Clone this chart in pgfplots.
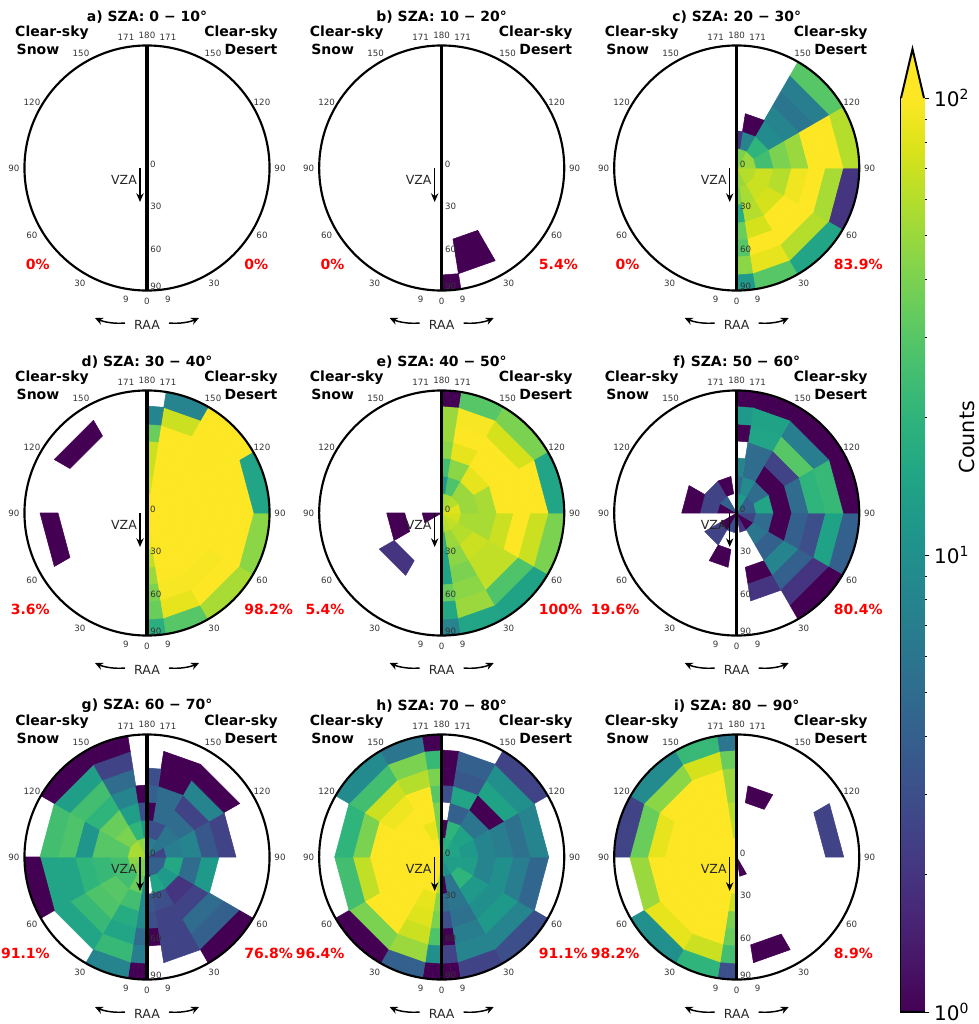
\documentclass[border=0pt]{standalone}
\usepackage{fontspec}
\setmainfont{DejaVu Sans}
\usepackage{pgfplots}
\usepackage{pgfplotstable}
\pgfplotsset{compat=1.18}
\usetikzlibrary{arrows.meta}
\definecolor{viridisTop}{HTML}{FDE725}
% counts: rows = VZA rings (centre outward), columns = RAA sectors 0-9,9-30,30-60,60-90,90-120,120-150,150-171,171-180
\pgfplotstableread{
s1 s2 s3 s4 s5 s6 s7 s8
0 0 0 0 0 0 0 0
0 0 0 0 0 0 0 0
0 0 0 0 0 0 0 0
0 0 0 0 0 0 0 0
0 0 0 0 0 0 0 0
0 0 0 0 0 0 0 0
0 0 0 0 0 0 0 0
}\tblE
\pgfplotstableread{
s1 s2 s3 s4 s5 s6 s7 s8
0 0 0 0 0 0 0 0
0 0 0 0 0 0 0 0
0 0 0 0 0 0 0 0
0 0 0 0 0 0 0 0
0 1 0 0 0 0 0 0
0 1 0 0 0 0 0 0
1 0 0 0 0 0 0 0
}\tblBR
\pgfplotstableread{
s1 s2 s3 s4 s5 s6 s7 s8
50 50 60 60 50 50 40 40
40 55 70 70 25 20 8 2
18 60 75 60 40 9 1 0
35 75 100 90 50 8 0 0
30 100 100 100 100 6 0 0
45 85 60 55 100 7 0 0
12 30 15 2 60 30 0 0
}\tblCR
\pgfplotstableread{
s1 s2 s3 s4 s5 s6 s7 s8
0 0 0 0 0 0 0 0
0 0 0 0 0 0 0 0
0 0 0 0 0 0 0 0
0 0 0 0 0 0 0 0
0 0 0 0 0 0 0 0
0 0 0 1 0 1 0 0
0 0 0 0 0 0 0 0
}\tblDL
\pgfplotstableread{
s1 s2 s3 s4 s5 s6 s7 s8
100 100 100 100 100 100 100 100
90 100 100 100 100 100 100 75
65 100 100 100 100 100 100 70
50 100 100 100 100 100 100 70
40 95 95 100 100 100 100 35
35 85 100 100 100 100 70 8
18 30 55 45 15 100 8 0
}\tblDR
\pgfplotstableread{
s1 s2 s3 s4 s5 s6 s7 s8
0 0 0 1 0 0 0 0
0 0 0 0 0 0 0 0
0 0 0 1 0 0 0 0
0 0 2 0 0 0 0 0
0 0 0 0 0 0 0 0
0 0 0 0 0 0 0 0
0 0 0 0 0 0 0 0
}\tblEL
\pgfplotstableread{
s1 s2 s3 s4 s5 s6 s7 s8
35 60 65 75 80 60 55 50
18 50 60 55 50 50 28 12
14 45 70 55 55 85 45 25
14 40 65 70 100 100 85 45
35 45 65 100 100 100 100 50
16 50 28 70 100 75 95 50
8 15 14 40 15 40 30 1
}\tblER
\pgfplotstableread{
s1 s2 s3 s4 s5 s6 s7 s8
2 3 1 0 1 4 0 0
0 0 2.5 0 2.5 2.5 1 0
0 1 0 0 1 0 0 0
0 0 0 0 0 0 0 0
0 0 0 0 0 0 0 0
0 0 0 0 0 0 0 0
0 0 0 0 0 0 0 0
}\tblFL
\pgfplotstableread{
s1 s2 s3 s4 s5 s6 s7 s8
0 2 1 2.5 4 4 12 10
0 0 6 5 15 5 9 5
0 0 4 1 1 1 5 8
0 1 8 4 5 2.5 5 0
0 2 4 3 20 30 15 1
0 0 2 14 22 7 14 12
0 0 1 4 1 1 1 1
}\tblFR
\pgfplotstableread{
s1 s2 s3 s4 s5 s6 s7 s8
35 40 40 45 55 55 45 45
10 35 25 25 30 40 20 12
9 25 30 22 30 35 13 3
9 17 28 20 11 20 8 1
5 15 22 15 28 25 5 0
7 22 15 15 25 13 2.5 0
1 8 0 1 0 1 1 0
}\tblGL
\pgfplotstableread{
s1 s2 s3 s4 s5 s6 s7 s8
1 4 4 4 2.5 6 7 5
0 15 12 16 7 6 3 3
3.5 3 2 5 8 5 5 1
3 2.5 2.5 12 3.5 2.5 5 4
1 2.5 5 0 2.5 8 1 3
0 2.5 4 0 0 1 1 0
0 0 1 0 0 0 0 0
}\tblGR
\pgfplotstableread{
s1 s2 s3 s4 s5 s6 s7 s8
80 100 100 100 100 100 100 45
60 100 100 100 100 100 85 40
45 85 100 100 100 100 100 40
40 80 100 100 100 90 100 30
28 70 100 65 40 70 60 40
10 50 40 25 20 25 40 22
1 4 1 0 0 9 6 1
}\tblHL
\pgfplotstableread{
s1 s2 s3 s4 s5 s6 s7 s8
10 10 13 13 15 15 18 15
1 6 20 13 12 14 20 1
5 6 12 8 8 6 4 0
3 5.5 10 10 7 1 15 3
1 7 12 7 5.5 14 3.5 1
2.5 8 8 4.5 8 10 4 1
1 2.5 3 0 0 2.5 0 0
}\tblHR
\pgfplotstableread{
s1 s2 s3 s4 s5 s6 s7 s8
100 100 100 100 100 100 100 100
100 100 100 100 100 100 100 65
70 100 100 100 100 100 100 60
40 100 100 100 100 100 100 50
35 100 100 100 85 100 100 50
25 70 85 50 35 45 75 35
3 20 10 0 2.5 9 22 6
}\tblIL
\pgfplotstableread{
s1 s2 s3 s4 s5 s6 s7 s8
0 1 0 0 0 0 0 0
0 0 0 0 0 0 0 0
0 0 0 0 0 0 0 0
0 0 0 0 0 0 1 0
0 0 0 0 0 0 0 0
0 1 0 0 2.5 0 0 0
0 0 0 0 0 0 0 0
}\tblIR
\newcommand\Rad[1]{\ifcase#1 0\or19.5\or37\or55\or72\or89\or107\or122.5\fi}
\newcommand\Ang[1]{\ifcase#1 0\or9\or30\or60\or90\or120\or150\or171\or180\fi}
\newcommand\addcells[2]{%
 \foreach \s in {0,...,7}{\foreach \rr in {0,...,6}{%
  \pgfplotstablegetelem{\rr}{[index]\s}\of#1%
  \ifdim\pgfplotsretval pt>0pt
   \pgfmathsetmacro\m{min(2,log10(\pgfplotsretval))}%
   \edef\ra{\Rad{\rr}}\edef\rb{\Rad{\numexpr\rr+1\relax}}%
   \edef\aa{\Ang{\s}}\edef\ab{\Ang{\numexpr\s+1\relax}}%
   \pgfmathsetmacro\xaa{#2*\ra*sin(\aa)}\pgfmathsetmacro\yaa{-\ra*cos(\aa)}%
   \pgfmathsetmacro\xba{#2*\ra*sin(\ab)}\pgfmathsetmacro\yba{-\ra*cos(\ab)}%
   \ifnum\rr=6
    % outermost ring: its outer edge follows the circle
    \foreach \t in {0,1,2,3}{%
     \pgfmathsetmacro\ta{\t/4}\pgfmathsetmacro\tb{(\t+1)/4}%
     \pgfmathsetmacro\ia{\xaa+(\xba-\xaa)*\ta}\pgfmathsetmacro\ja{\yaa+(\yba-\yaa)*\ta}%
     \pgfmathsetmacro\ib{\xaa+(\xba-\xaa)*\tb}\pgfmathsetmacro\jb{\yaa+(\yba-\yaa)*\tb}%
     \pgfmathsetmacro\oa{\aa+(\ab-\aa)*\ta}\pgfmathsetmacro\ob{\aa+(\ab-\aa)*\tb}%
     \pgfmathsetmacro\ka{#2*\rb*sin(\oa)}\pgfmathsetmacro\la{-\rb*cos(\oa)}%
     \pgfmathsetmacro\kb{#2*\rb*sin(\ob)}\pgfmathsetmacro\lb{-\rb*cos(\ob)}%
     \xdef\cells{\cells (\ia,\ja) [\m] (\ib,\jb) [\m] (\kb,\lb) [\m] (\ka,\la) [\m] }}%
   \else
    \pgfmathsetmacro\xbb{#2*\rb*sin(\ab)}\pgfmathsetmacro\ybb{-\rb*cos(\ab)}%
    \pgfmathsetmacro\xab{#2*\rb*sin(\aa)}\pgfmathsetmacro\yab{-\rb*cos(\aa)}%
    \xdef\cells{\cells (\xaa,\yaa) [\m] (\xba,\yba) [\m] (\xbb,\ybb) [\m] (\xab,\yab) [\m] }%
   \fi
  \fi}}}
\newcommand\tl[3]{\node[font=\fontsize{6.5}{7}\selectfont,text=black!80] at (axis cs:#1,#2) {#3};}
\newcommand\panel[7]{%
 \gdef\cells{}\addcells{#6}{-1}\addcells{#7}{1}%
 \begin{axis}[at={(#1*0.75pt,-#2*0.75pt)},anchor=center,scale only axis,width=183.75pt,height=183.75pt,
   xmin=-122.5,xmax=122.5,ymin=-122.5,ymax=122.5,hide axis,clip=false,
   colormap name=viridis,point meta min=0,point meta max=2]
 \ifx\cells\empty\else
  \edef\doplot{\noexpand\addplot[patch,patch type=rectangle,shader=flat,line width=0.4pt,point meta=explicit] coordinates {\cells};}\doplot
 \fi
 \draw[line width=1.6pt] (axis cs:0,0) circle [radius=91.9pt];
 \draw[line width=2.5pt] (axis cs:0,-122.5) -- (axis cs:0,122.5);
 \node[font=\fontsize{10.5}{12}\selectfont\bfseries] at (axis cs:0,151) {#3};
 \node[font=\fontsize{10.5}{12}\selectfont\bfseries] at (axis cs:-95,135) {Clear-sky};
 \node[font=\fontsize{10.5}{12}\selectfont\bfseries] at (axis cs:-109,119) {Snow};
 \node[font=\fontsize{10.5}{12}\selectfont\bfseries] at (axis cs:94,135) {Clear-sky};
 \node[font=\fontsize{10.5}{12}\selectfont\bfseries] at (axis cs:104,119) {Desert};
 \node[font=\fontsize{10.5}{12}\selectfont\bfseries,text=red,anchor=east,inner xsep=0pt] at (axis cs:-97,-96) {#4};
 \node[font=\fontsize{10.5}{12}\selectfont\bfseries,text=red,anchor=west,inner xsep=0pt] at (axis cs:97,-96) {#5};
 \tl{0}{133}{180}\tl{-21}{131}{171}\tl{21}{131}{171}
 \tl{-66}{115}{150}\tl{66}{115}{150}\tl{-115}{66}{120}\tl{115}{66}{120}
 \tl{-133}{0}{90}\tl{133}{0}{90}\tl{-115}{-67}{60}\tl{115}{-67}{60}
 \tl{-67}{-115}{30}\tl{67}{-115}{30}\tl{-21}{-131}{9}\tl{21}{-131}{9}\tl{0}{-133}{0}
 \tl{6}{4}{0}\tl{9}{-38}{30}\tl{9}{-81}{60}\tl{9}{-118}{90}
 \node[font=\fontsize{9.4}{11}\selectfont,text=black!85] at (axis cs:-23,-12) {VZA};
 \draw[-{Stealth[length=6.5pt,width=5.5pt]},line width=1.1pt] (axis cs:-7,0) -- (axis cs:-7,-34);
 \node[font=\fontsize{9.4}{11}\selectfont,text=black!85] at (axis cs:0,-157) {RAA};
 \draw[-{Stealth[length=6pt,width=5.5pt]},line width=1.1pt] (axis cs:-22,-155) .. controls (axis cs:-33,-156) and (axis cs:-43,-154) .. (axis cs:-52,-150);
 \draw[-{Stealth[length=6pt,width=5.5pt]},line width=1.1pt] (axis cs:22,-155) .. controls (axis cs:33,-156) and (axis cs:43,-154) .. (axis cs:52,-150);
 \end{axis}}
\begin{document}
\begin{tikzpicture}
\path[use as bounding box] (0,0) rectangle (733.5pt,-768pt);
\panel{147}{168}{a) SZA: 0 − 10°}{0\%}{0\%}{\tblE}{\tblE}
\panel{441.7}{168}{b) SZA: 10 − 20°}{0\%}{5.4\%}{\tblE}{\tblBR}
\panel{736.7}{168}{c) SZA: 20 − 30°}{0\%}{83.9\%}{\tblE}{\tblCR}
\panel{147}{513}{d) SZA: 30 − 40°}{3.6\%}{98.2\%}{\tblDL}{\tblDR}
\panel{441.7}{513}{e) SZA: 40 − 50°}{5.4\%}{100\%}{\tblEL}{\tblER}
\panel{736.7}{513}{f) SZA: 50 − 60°}{19.6\%}{80.4\%}{\tblFL}{\tblFR}
\panel{147}{857}{g) SZA: 60 − 70°}{91.1\%}{76.8\%}{\tblGL}{\tblGR}
\panel{441.7}{857}{h) SZA: 70 − 80°}{96.4\%}{91.1\%}{\tblHL}{\tblHR}
\panel{736.7}{857}{i) SZA: 80 − 90°}{98.2\%}{8.9\%}{\tblIL}{\tblIR}
\begin{axis}[at={(901*0.75pt,-1012*0.75pt)},anchor=south west,scale only axis,
  width=17.25pt,height=685.5pt,ymode=log,ymin=1,ymax=100,xmin=0,xmax=1,clip=false,
  xtick=\empty,ytick={1,10,100},yticklabels={10\textsuperscript{0},10\textsuperscript{1},10\textsuperscript{2}},
  ytick pos=right,yticklabel pos=right,tick align=outside,
  major tick length=4pt,minor tick length=2.2pt,
  separate axis lines,every outer x axis line/.append style={draw=none},
  axis line style={line width=1.5pt},every tick/.style={line width=0.6pt,black},
  tick label style={font=\fontsize{15}{17}\selectfont},
  ylabel=Counts,
  every axis y label/.style={at={(rel axis cs:2.87,0.629)},anchor=center,rotate=90,font=\fontsize{15.5}{18}\selectfont},
  colormap name=viridis,point meta min=0,point meta max=2]
\addplot[patch,patch type=rectangle,shader=interp,point meta=explicit] coordinates {(0,1) [0] (1,1) [0] (1,100) [2] (0,100) [2]};
\fill[viridisTop] (rel axis cs:0,1) -- (rel axis cs:0.5,1.0536) -- (rel axis cs:1,1) -- cycle;
\draw[line width=1.5pt,line join=miter] (rel axis cs:0,1) -- (rel axis cs:0.5,1.0536) -- (rel axis cs:1,1);
\draw[line width=1.5pt,line cap=rect] (rel axis cs:0,0) -- (rel axis cs:1,0);
\end{axis}
\end{tikzpicture}
\end{document}
